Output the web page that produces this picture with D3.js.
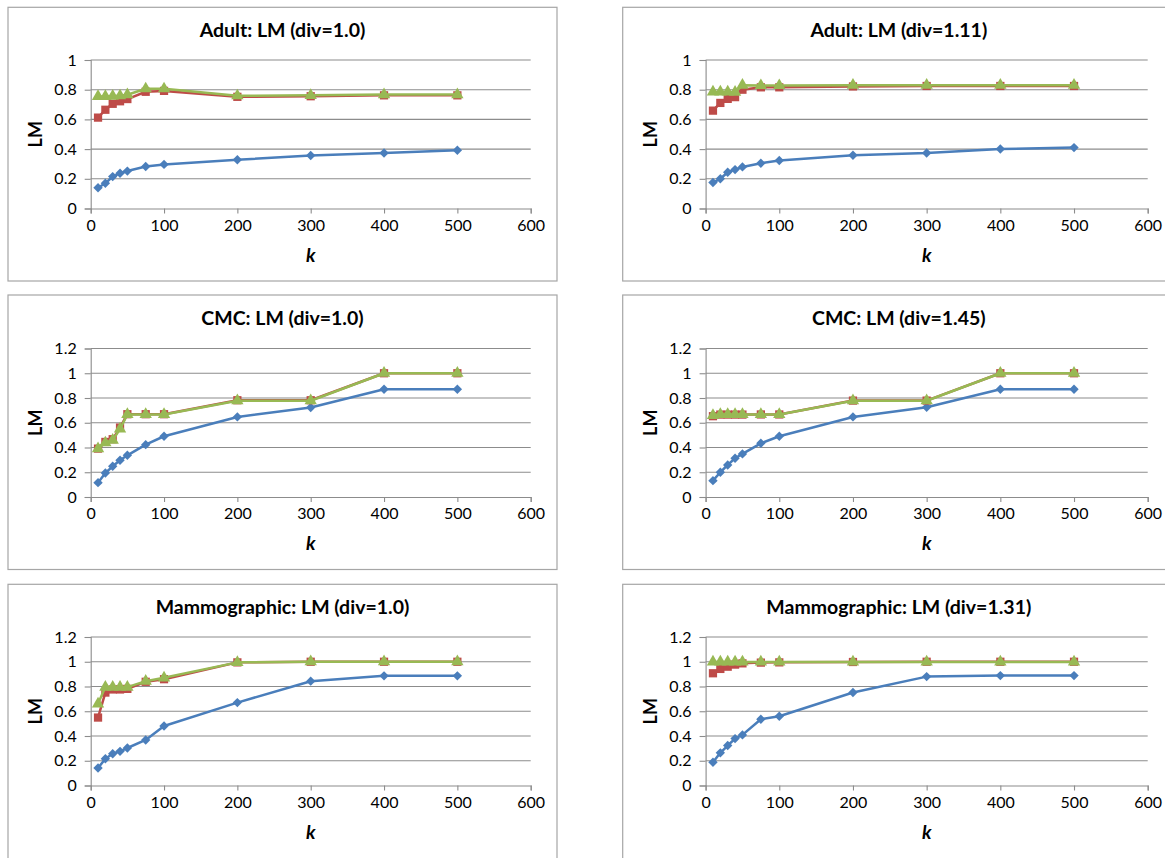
<!DOCTYPE html>
<html>
<head>
<meta charset="utf-8">
<script src="https://cdn.jsdelivr.net/npm/d3@7"></script>
<style>
  html, body { margin: 0; padding: 0; background: #fff; }
  svg { display: block; }
</style>
</head>
<body>
<svg id="chart" width="1165" height="858"></svg>
<script>
// ---------------- data ----------------
const kValues = [10, 20, 30, 40, 50, 75, 100, 200, 300, 400, 500];
const xTickValues = [0, 100, 200, 300, 400, 500, 600];
const panelTitles = [
  "Adult: LM (div=1.0)", "Adult: LM (div=1.11)",
  "CMC: LM (div=1.0)", "CMC: LM (div=1.45)",
  "Mammographic: LM (div=1.0)", "Mammographic: LM (div=1.31)"
];
const yAxisMax = [1, 1, 1.2, 1.2, 1.2, 1.2];
const yAxisLabel = "LM";
const xAxisLabel = "k";

// blue (diamond), red (square), green (triangle) series per panel
const adult10Blue  = [0.14, 0.17, 0.215, 0.237, 0.252, 0.283, 0.297, 0.328, 0.357, 0.374, 0.392];
const adult10Red   = [0.612, 0.665, 0.705, 0.722, 0.737, 0.786, 0.792, 0.752, 0.756, 0.762, 0.762];
const adult10Green = [0.755, 0.755, 0.757, 0.759, 0.766, 0.806, 0.806, 0.759, 0.762, 0.767, 0.767];

const adult111Blue  = [0.175, 0.2, 0.244, 0.262, 0.28, 0.305, 0.323, 0.359, 0.374, 0.401, 0.41];
const adult111Red   = [0.659, 0.711, 0.738, 0.75, 0.8, 0.816, 0.816, 0.822, 0.825, 0.825, 0.825];
const adult111Green = [0.785, 0.785, 0.785, 0.783, 0.83, 0.828, 0.828, 0.83, 0.83, 0.83, 0.83];

const cmc10Blue  = [0.116, 0.194, 0.248, 0.297, 0.337, 0.423, 0.491, 0.647, 0.723, 0.871, 0.871];
const cmc10Red   = [0.391, 0.445, 0.467, 0.561, 0.669, 0.669, 0.669, 0.782, 0.782, 1.0, 1.0];
const cmc10Green = [0.39, 0.438, 0.46, 0.55, 0.667, 0.667, 0.667, 0.778, 0.778, 1.0, 1.0];

const cmc145Blue  = [0.132, 0.2, 0.259, 0.313, 0.348, 0.434, 0.491, 0.647, 0.725, 0.871, 0.871];
const cmc145Red   = [0.653, 0.666, 0.666, 0.666, 0.666, 0.667, 0.667, 0.779, 0.779, 1.0, 1.0];
const cmc145Green = [0.66, 0.667, 0.667, 0.667, 0.667, 0.667, 0.667, 0.778, 0.778, 1.0, 1.0];

const mammo10Blue  = [0.141, 0.216, 0.257, 0.276, 0.303, 0.368, 0.481, 0.67, 0.843, 0.886, 0.886];
const mammo10Red   = [0.549, 0.751, 0.776, 0.776, 0.781, 0.838, 0.859, 0.995, 1.0, 1.0, 1.0];
const mammo10Green = [0.66, 0.795, 0.795, 0.795, 0.795, 0.843, 0.87, 0.995, 1.0, 1.0, 1.0];

const mammo131Blue  = [0.188, 0.264, 0.323, 0.379, 0.409, 0.535, 0.56, 0.751, 0.88, 0.888, 0.888];
const mammo131Red   = [0.907, 0.942, 0.96, 0.977, 0.987, 0.993, 0.995, 0.998, 1.0, 1.0, 1.0];
const mammo131Green = [0.998, 0.998, 0.998, 0.998, 0.998, 0.998, 0.998, 0.998, 0.998, 0.998, 0.998];

const panelSeries = [
  [adult10Blue, adult10Red, adult10Green],
  [adult111Blue, adult111Red, adult111Green],
  [cmc10Blue, cmc10Red, cmc10Green],
  [cmc145Blue, cmc145Red, cmc145Green],
  [mammo10Blue, mammo10Red, mammo10Green],
  [mammo131Blue, mammo131Red, mammo131Green]
];

// ---------------- styling / layout ----------------
const seriesColors = ["#4A7EBB", "#BE4B48", "#98B954"];
const seriesSymbols = [d3.symbolSquare, d3.symbolSquare, d3.symbolTriangle];
const symbolRotate = [45, 0, 0];
const symbolSizes = [44, 68, 66];
const gridColor = "#8c8c8c";
const borderColor = "#a6a6a6";
const FONT = "Lato, 'Liberation Sans', Arial, sans-serif";

const colBox = [{ left: 8, right: 557 }, { left: 622.7, right: 1175 }];
const colPlot = [{ x0: 90.7, x1: 530.7 }, { x0: 705.6, x1: 1147.7 }];
const rowBox = [{ top: 7.3, bottom: 281 }, { top: 295, bottom: 569.5 }, { top: 584.3, bottom: 875 }];
const rowPlot = [{ y0: 208.5, y1: 60 }, { y0: 497, y1: 348.5 }, { y0: 785.5, y1: 637 }];

const svg = d3.select("#chart");

panelTitles.forEach((title, i) => {
  const col = i % 2, row = Math.floor(i / 2);
  const box = { ...colBox[col], ...rowBox[row] };
  const pl = { ...colPlot[col], ...rowPlot[row] };
  const g = svg.append("g");

  // panel frame
  g.append("rect")
    .attr("x", box.left).attr("y", box.top)
    .attr("width", box.right - box.left).attr("height", box.bottom - box.top)
    .attr("fill", "#fff").attr("stroke", borderColor).attr("stroke-width", 1.2);

  const x = d3.scaleLinear().domain([0, 600]).range([pl.x0, pl.x1]);
  const y = d3.scaleLinear().domain([0, yAxisMax[i]]).range([pl.y0, pl.y1]);
  const yTicks = d3.range(0, yAxisMax[i] + 1e-9, 0.2).map(v => +v.toFixed(1));

  // gridlines
  g.append("g").selectAll("line").data(yTicks.filter(v => v > 0)).join("line")
    .attr("x1", pl.x0).attr("x2", pl.x1)
    .attr("y1", d => y(d)).attr("y2", d => y(d))
    .attr("stroke", gridColor).attr("stroke-width", 1.1);

  // y axis
  const yAxis = g.append("g").attr("transform", `translate(${pl.x0},0)`)
    .call(d3.axisLeft(y).tickValues(yTicks).tickSize(6).tickPadding(8)
      .tickFormat(d => d3.format("~g")(d)));
  // x axis
  const xAxis = g.append("g").attr("transform", `translate(0,${pl.y0})`)
    .call(d3.axisBottom(x).tickValues(xTickValues).tickSize(5).tickPadding(6)
      .tickFormat(d3.format("d")));
  [yAxis, xAxis].forEach(ax => {
    ax.select(".domain").attr("stroke", gridColor).attr("stroke-width", 1.1);
    ax.selectAll(".tick line").attr("stroke", gridColor).attr("stroke-width", 1.1);
    ax.selectAll(".tick text").attr("fill", "#000")
      .style("font-family", FONT).style("font-size", "16px");
  });

  // title
  g.append("text")
    .attr("x", (box.left + box.right) / 2).attr("y", box.top + 30)
    .attr("text-anchor", "middle")
    .style("font-family", FONT).style("font-weight", "bold").style("font-size", "19.5px")
    .text(title);

  // y label
  g.append("text")
    .attr("transform", `translate(${box.left + 34},${(pl.y0 + pl.y1) / 2}) rotate(-90)`)
    .attr("text-anchor", "middle")
    .style("font-family", FONT).style("font-weight", "bold").style("font-size", "18px")
    .text(yAxisLabel);

  // x label
  g.append("text")
    .attr("x", (pl.x0 + pl.x1) / 2).attr("y", pl.y0 + 53)
    .attr("text-anchor", "middle")
    .style("font-family", FONT).style("font-weight", "bold").style("font-style", "italic")
    .style("font-size", "19px")
    .text(xAxisLabel);

  // series
  const line = d3.line().x((d, j) => x(kValues[j])).y(d => y(d));
  panelSeries[i].forEach((vals, s) => {
    const sg = g.append("g");
    sg.append("path").datum(vals).attr("d", line)
      .attr("fill", "none").attr("stroke", seriesColors[s]).attr("stroke-width", 2.5)
      .attr("stroke-linejoin", "round");
    sg.selectAll("path.m").data(vals).join("path").attr("class", "m")
      .attr("transform", (d, j) => `translate(${x(kValues[j])},${y(d)}) rotate(${symbolRotate[s]})`)
      .attr("d", d3.symbol().type(seriesSymbols[s]).size(symbolSizes[s]))
      .attr("fill", seriesColors[s]);
  });
});
</script>
</body>
</html>
